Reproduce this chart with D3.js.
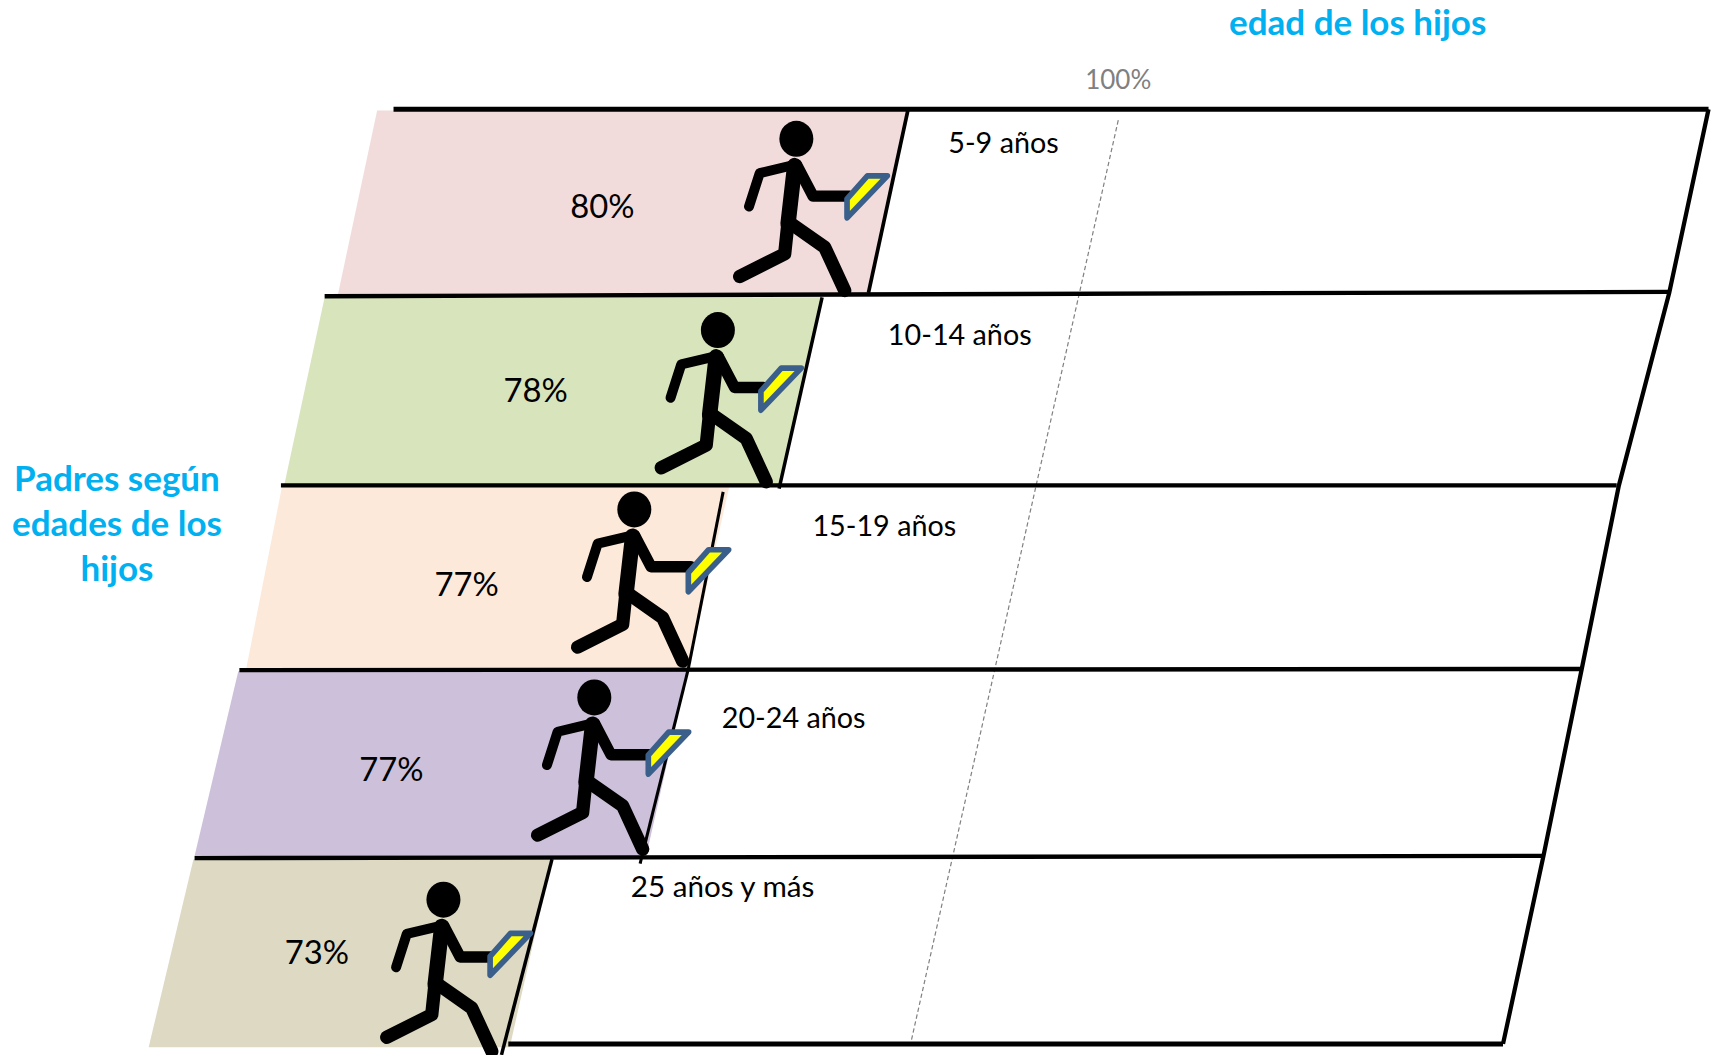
<!DOCTYPE html>
<html><head><meta charset="utf-8">
<script src="https://cdn.jsdelivr.net/npm/d3@7"></script>
<style>html,body{margin:0;padding:0;background:#fff;overflow:hidden}svg{display:block}text{font-family:Lato,"Open Sans",sans-serif}</style>
</head><body><div id="c"></div>
<script>
// DATA
const categories = ["5-9 años","10-14 años","15-19 años","20-24 años","25 años y más"];
const values = [80,78,77,77,73];
const referenceTick = 100;
const titleTop = "edad de los hijos";
const titleLeft = ["Padres según","edades de los","hijos"];
const fills = ["#F2DCDB","#D8E4BC","#FDE9D9","#CCC0DA","#DDD9C3"];

// LAYOUT (in reference units, 1568 wide)
const rowTop = [101,272,445,614,786];
const rowBottom = [270,444,613,783,958];
const leftTop = [345,297,258,218,177];
const leftBottom = [309,260,225,178,136];
const rules = [
  {y1:100,y2:100,x1:360,x2:1563,w:4.6},
  {y1:271,y2:267,x1:297,x2:1527,w:4},
  {y1:444,y2:444,x1:257,x2:1479,w:4},
  {y1:613,y2:612,x1:219,x2:1446,w:4},
  {y1:785,y2:783,x1:178,x2:1412,w:4},
  {y1:955,y2:955,x1:465,x2:1375,w:4.6}
];
const rightEdge = [[1563,100],[1527,268],[1481,444],[1447,612],[1412,783],[1375,955]];
const dividerTop = [101,272,450,613,786];
const dividerBottom = [268,447,612,790,965];
const dividerW = [3.4,3.2,2.8,2.8,3.2];
const dividerTopShift = [-1.5,0,-4.5,0,0];
const dividerBottomShift = [0,0,0,-4,-6];
const catX = [918,878,809,726,661], catY = [131,306,481,657,811];
const catSize = [26.3,26.3,26.3,26.3,27.1];
const valX = [551,490,427,358,290], valY = [189,357,535,704,871];
const headX = [84.5,76,68,66.5,80], headY = [127,302,466,638,823];
const signShift = [0,-23,10,10,-12];
const signDrop = [0,3,10,-7,-10];

const S = 1714/1568;
const svg = d3.select("#c").append("svg").attr("width",1714).attr("height",1055)
  .attr("viewBox",`0 0 1568 ${1055/S}`);

// the 100% reference line, leaning with the grid
const dash = d3.scaleLinear().domain([110,955]).range([1023,833]);
// distance of a value from the 100% line as it is drawn in the reference
const offset = d3.scaleLinear().domain([73,77,78,80,100]).range([-366,-280.5,-234.5,-193,0]);
const barX = (v,y) => dash(y)+offset(v);
const poly = d3.line();

// bars
svg.append("g").selectAll("path").data(values).join("path")
  .attr("d",(v,i)=>poly([[leftTop[i],rowTop[i]],[barX(v,rowTop[i]),rowTop[i]],[barX(v,rowBottom[i]),rowBottom[i]],[leftBottom[i],rowBottom[i]]])+"Z")
  .attr("fill",(v,i)=>fills[i]);

// 100% line
svg.append("line").attr("x1",dash(110)).attr("y1",110).attr("x2",dash(955)).attr("y2",955)
  .attr("stroke","#808080").attr("stroke-width",1.1).attr("stroke-dasharray","4 2.5");

// bar end dividers
svg.append("g").selectAll("line").data(values).join("line")
  .attr("x1",(v,i)=> barX(v,dividerTop[i])+dividerTopShift[i]).attr("y1",(v,i)=>dividerTop[i])
  .attr("x2",(v,i)=> barX(v,dividerBottom[i])+dividerBottomShift[i]).attr("y2",(v,i)=>dividerBottom[i])
  .attr("stroke","#000").attr("stroke-width",(v,i)=>dividerW[i]);

// grid
svg.append("g").selectAll("line").data(rules).join("line")
  .attr("x1",d=>d.x1).attr("y1",d=>d.y1).attr("x2",d=>d.x2).attr("y2",d=>d.y2)
  .attr("stroke","#000").attr("stroke-width",d=>d.w);
svg.append("path").attr("d",poly(rightEdge)).attr("fill","none").attr("stroke","#000").attr("stroke-width",3.9);

// runner symbol, drawn around the head centre
function runner(g,shift,drop){
  const s = g.append("g").attr("transform","scale(0.305) translate(-230,-115)");
  s.append("ellipse").attr("cx",230).attr("cy",115).attr("rx",51).attr("ry",54).attr("fill","#000");
  const limb = (pts,w)=>s.append("path").attr("d",poly(pts)).attr("fill","none").attr("stroke","#000")
    .attr("stroke-width",w).attr("stroke-linejoin","round").attr("stroke-linecap","round");
  limb([[225,195],[205,370]],46);
  limb([[228,192],[120,218],[88,318]],30);
  limb([[232,195],[280,287],[390+shift,287]],34);
  limb([[205,365],[195,460],[60,528]],40);
  limb([[215,370],[315,440],[375,570]],40);
  s.append("path").attr("d",poly([[443,226],[503,226],[382,352],[382,295]].map(p=>[p[0]+shift,p[1]+drop]))+"Z")
    .attr("fill","#FFFF00").attr("stroke","#3A5F8B").attr("stroke-width",17).attr("stroke-linejoin","round");
}
svg.append("g").selectAll("g").data(values).join("g")
  .attr("transform",(v,i)=>`translate(${barX(v,(rowTop[i]+rowBottom[i])/2)-headX[i]},${headY[i]})`)
  .each(function(v,i){runner(d3.select(this),signShift[i],signDrop[i]);});

// value labels
svg.append("g").selectAll("text").data(values).join("text")
  .attr("x",(v,i)=>valX[i]).attr("y",(v,i)=>valY[i]).attr("dy","0.35em").attr("text-anchor","middle")
  .attr("font-size",30).attr("fill","#000").text(v=>v+"%");
// category labels
svg.append("g").selectAll("text").data(categories).join("text")
  .attr("x",(c,i)=>catX[i]).attr("y",(c,i)=>catY[i]).attr("dy","0.35em").attr("text-anchor","middle")
  .attr("font-size",(c,i)=>catSize[i]).attr("fill","#000").text(c=>c);
// 100% tick
svg.append("text").attr("x",1023).attr("y",73).attr("dy","0.35em").attr("text-anchor","middle")
  .attr("font-size",23.8).attr("fill","#808080").text(referenceTick+"%");
// titles
svg.append("text").attr("x",1242).attr("y",21).attr("dy","0.35em").attr("text-anchor","middle")
  .attr("font-size",32).attr("font-weight",700).attr("fill","#00B0F0").text(titleTop);
svg.append("g").selectAll("text").data(titleLeft).join("text")
  .attr("x",107).attr("y",(t,i)=>438+i*41).attr("dy","0.35em").attr("text-anchor","middle")
  .attr("font-size",32).attr("font-weight",700).attr("fill","#00B0F0").text(t=>t);
</script></body></html>
